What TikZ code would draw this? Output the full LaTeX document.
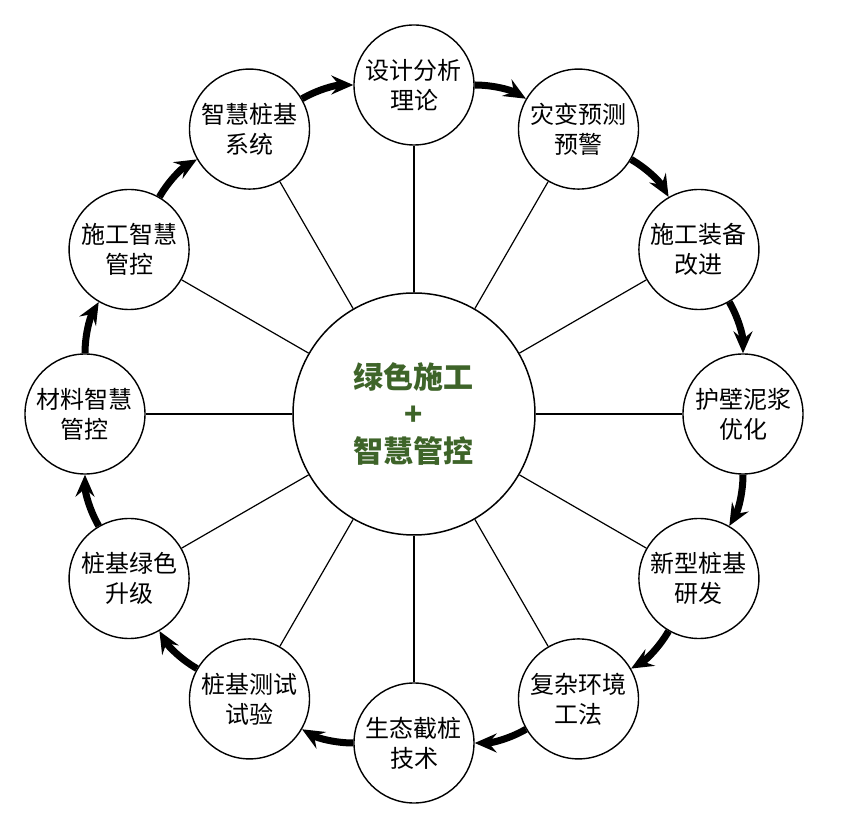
\documentclass[tikz,border=0pt]{standalone}
\usepackage{fontspec}
\setmainfont{Noto Sans CJK SC}
\usetikzlibrary{arrows.meta}
\definecolor{leafgreen}{HTML}{3E6429}
\tikzset{hub/.style={circle,draw,line width=1.5pt,fill=white,minimum size=242pt,inner sep=0pt,align=center,font=\fontsize{30}{37}\selectfont\bfseries,text=leafgreen},topic/.style={circle,draw,line width=1.4pt,fill=white,minimum size=120pt,inner sep=0pt,align=center,font=\fontsize{24}{30}\selectfont},spoke/.style={line width=1.2pt},flow/.style={line width=7pt,-{Stealth[length=22pt,width=19pt,inset=8pt]}}}
\begin{document}
\begin{tikzpicture}[x=1pt,y=1pt]
\useasboundingbox (-414,-420) rectangle (429,414);
\node[hub] (hub) at (0,0) {绿色施工\\+\\智慧管控};
\foreach \txt [count=\i] in {设计分析\\理论,灾变预测\\预警,施工装备\\改进,护壁泥浆\\优化,新型桩基\\研发,复杂环境\\工法,生态截桩\\技术,桩基测试\\试验,桩基绿色\\升级,材料智慧\\管控,施工智慧\\管控,智慧桩基\\系统}
  \node[topic] (s\i) at ({120-30*\i}:329) {\txt};
\foreach \i in {1,...,12}
  \draw[spoke] (hub)--(s\i);
\foreach \i in {1,...,12}{
  \pgfmathtruncatemacro\j{mod(\i,12)+1}
  \draw[flow] (s\i) to[bend left=15,looseness=0.87] (s\j);
}
\end{tikzpicture}
\end{document}
